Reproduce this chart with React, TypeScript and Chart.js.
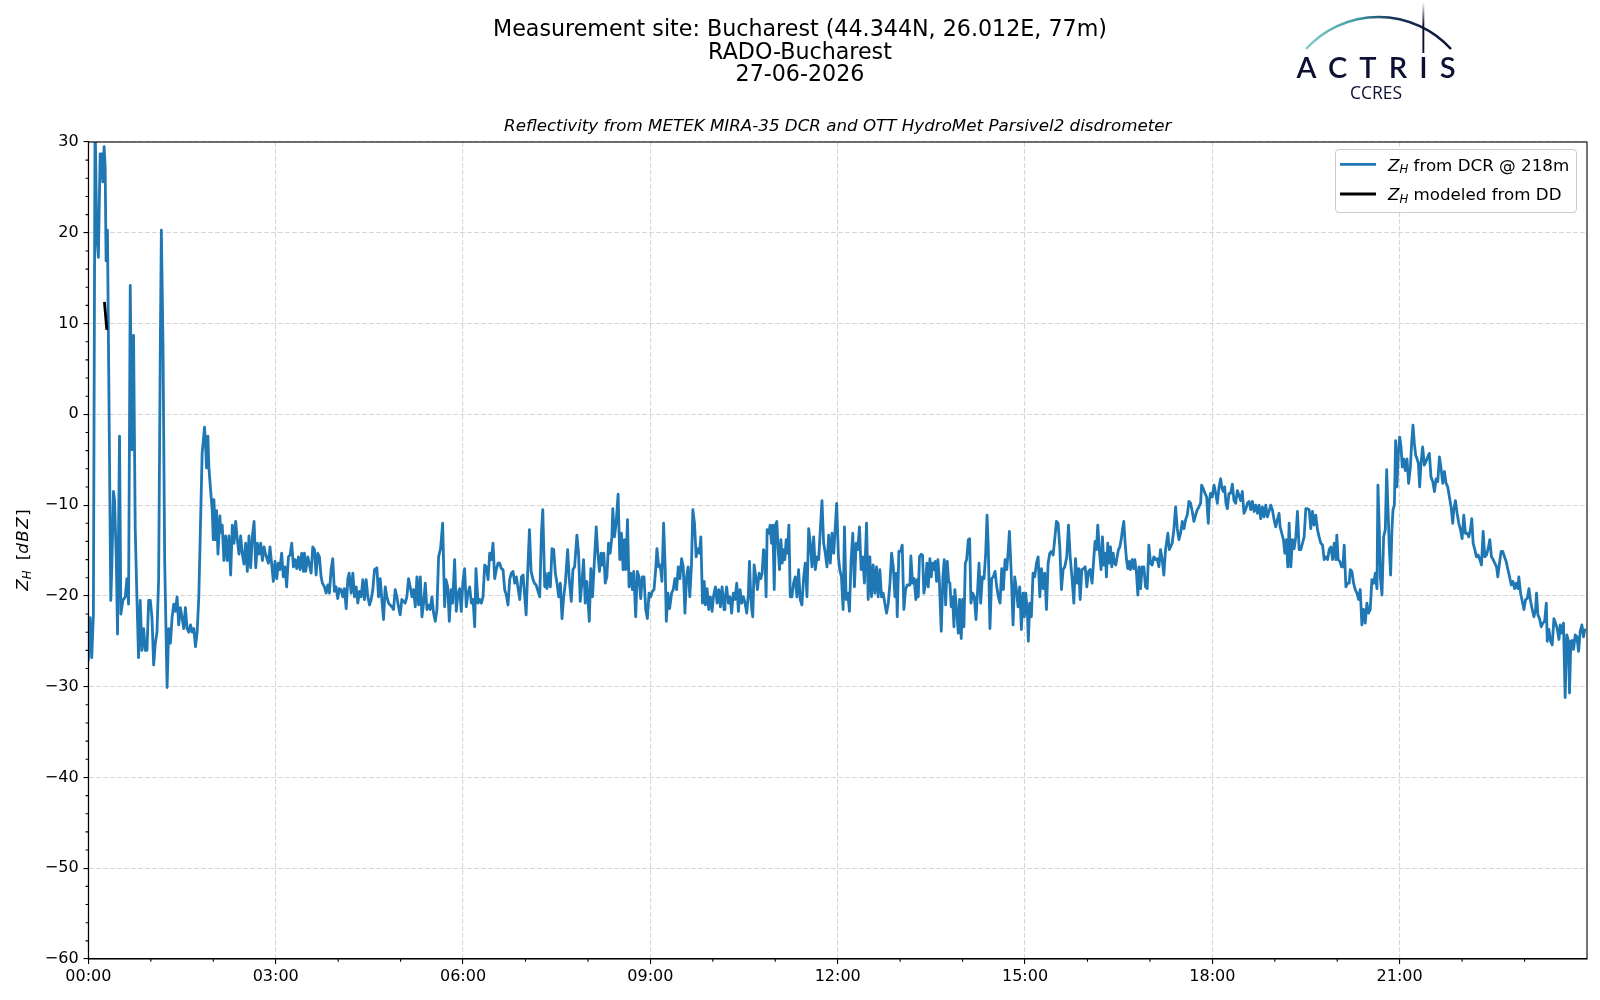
import { useEffect, useRef } from "react";
import { Chart, registerables } from "chart.js";

Chart.register(...registerables);

// Reflectivity: minutes after 00:00 and dBZ
const dcrMinutes = [
  0, 1.6, 3.2, 4.8, 6.4, 8.0, 9.6, 11.3, 12.9, 13.8,
  15.1, 16.1, 17.0, 18.3, 21.5, 22.5, 24.1, 25.1, 26.7, 28.0,
  29.9, 31.2, 33.1, 35.4, 37.0, 38.6, 40.2, 41.8, 43.4, 45.0,
  46.6, 48.2, 49.8, 51.4, 53.1, 54.7, 56.3, 57.9, 59.5, 61.1,
  62.7, 64.3, 65.9, 67.5, 69.1, 70.1, 71.7, 73.3, 75.6, 77.2,
  78.8, 80.4, 82.0, 83.6, 85.2, 86.8, 88.4, 90.0, 91.6, 93.2,
  94.8, 96.5, 98.1, 99.7, 101.3, 102.9, 104.5, 106.1, 107.7, 109.3,
  111.6, 112.5, 113.5, 114.8, 115.8, 117.4, 119.0, 120.0, 120.6, 122.2,
  123.2, 124.5, 126.4, 127.0, 128.6, 130.2, 131.8, 133.4, 135.0, 136.7,
  138.3, 139.9, 141.5, 143.1, 144.7, 146.3, 147.9, 149.5, 151.1, 152.7,
  154.3, 155.9, 157.6, 159.2, 160.8, 162.4, 164.0, 165.6, 167.2, 168.8,
  170, 173, 174.5, 177.7, 179.3, 181, 182.5, 184, 185.7, 187.3,
  188.9, 190.5, 192.2, 193.8, 195.4, 197, 198.6, 200.2, 201.8, 203.4,
  205, 206.6, 207.6, 208.8, 210.8, 214, 215.6, 217.2, 218.8, 220.4,
  222, 223.6, 224.9, 226.8, 228.4, 230, 231.6, 233.2, 234.8, 236.4,
  238, 239.6, 241.2, 242.8, 244.4, 246, 247.7, 249.3, 250.5, 252.5,
  254.1, 255.7, 257.3, 258.9, 260.5, 262.1, 263.7, 265.3, 266.9, 268.5,
  270.1, 271.7, 273.3, 274.9, 277.2, 278.8, 280.4, 282, 283.6, 285.2,
  286.8, 288.4, 290, 291.6, 293.2, 294.8, 296.4, 298, 299.6, 301.2,
  302.8, 304.4, 306, 307.6, 309.2, 310.9, 312.5, 314.1, 315.7, 317.3,
  318.9, 320.5, 322.1, 323.7, 325.3, 326.9, 328.5, 330.1, 331.7, 333.3,
  334.9, 336.5, 338.4, 340.4, 342.3, 343.6, 345.2, 346.8, 348.4, 350,
  351.9, 353.5, 355.1, 356.7, 358.3, 359.9, 361.5, 363.1, 364.7, 366.4,
  368, 369.6, 371.2, 372.4, 374.4, 376, 377.6, 379.2, 380.8, 382.4,
  384, 385.6, 387.2, 388.8, 390.4, 392, 393.6, 395.2, 396.8, 398.4,
  400, 401.6, 403.2, 404.8, 406.4, 408, 409.7, 411.3, 412.9, 414.5,
  416.1, 417.7, 419.3, 420.6, 422.2, 423.8, 425.4, 427, 428.6, 430.2,
  432.1, 433.7, 435.3, 436.6, 438.5,
  439.1, 440.7, 442.3, 443.9, 445.5, 447.1, 448.7, 450.3, 451.9, 453.5,
  455.1, 456.7, 458.3, 460.5, 462.1, 464.0, 465.6, 467.2, 469.4, 471.0,
  472.6, 474.2, 475.8, 477.4, 479.0, 481.3, 482.8, 484.4, 486.4, 488.0,
  489.5, 491.1, 492.7, 494.0, 495.3, 496.6, 498.2, 499.8, 501.4, 503.0,
  503.9, 505.5, 507.1, 509.0, 510.6, 512.2, 513.8, 515.1, 516.4, 518.0,
  519.5, 521.1, 522.7, 524.0, 525.9, 527.5, 529.1, 530.7, 532.3, 533.9,
  535.5, 537.1, 538.7, 540.3, 541.9, 543.5, 545.1, 546.3, 548.0, 549.5,
  551.1, 552.7, 554.3, 555.3, 556.9, 558.5, 560.4, 562.0, 563.6, 565.2,
  566.8, 568.4, 570.0, 571.6, 573.2, 574.8, 576.3, 577.9, 579.5, 580.8,
  582.4, 584.0, 585.3, 587.2, 588.5, 590.1, 591.7, 592.9, 594.5, 596.1,
  597.7, 599.3, 600.6, 602.5, 604.1, 605.7, 607.3, 608.9, 610.8,
  611.7, 613.3, 614.9, 616.5, 618.1, 619.7, 621.3, 623.0, 624.6, 626.2,
  627.8, 629.4, 631.0, 632.6, 634.2, 635.2, 636.5, 637.4, 638.4, 639.7,
  641.3, 642.9, 644.5, 646.1, 647.4, 648.7, 650.0, 651.2, 652.2, 653.8,
  655.1, 656.4, 657.7, 659.0, 660.2, 661.5, 662.8, 664.1, 665.4, 666.7,
  668.0, 669.2, 670.5, 671.8, 673.1, 674.4, 676.0, 677.6, 679.2, 680.8,
  682.4, 684.0, 685.6, 687.2, 688.8, 690.5, 692.1, 693.7, 695.3, 696.9,
  698.5, 700.1, 701.7, 703.3, 704.9, 706.5, 708.1, 709.7, 711.3, 712.9,
  714.5, 716.2, 717.5, 719.0, 720.7, 722.0, 723.6, 725.2, 726.5, 728.1,
  729.7, 731.3, 732.9, 734.5, 736.1, 737.7, 739.3, 740.9, 742.5, 744.1,
  745.7, 747.7, 749.3, 750.9, 752.5, 754.1, 755.7, 757.3, 758.9, 760.5,
  762.1, 763.7, 765.3, 766.9, 768.6, 770.2, 771.8, 773.4, 775.0, 776.3,
  777.2, 778.8, 780.4, 782.0, 783.6, 785.2, 786.8, 789.4,
  790.3, 791.9, 793.5, 795.1, 796.4, 797.4, 798.6, 800.2, 801.5, 802.8,
  804.4, 805.7, 807.0, 808.6, 809.9, 811.2, 812.4, 813.7, 815.0, 816.3,
  817.6, 819.5, 821.1, 822.4, 823.7, 825.3, 826.6, 827.8, 829.1, 830.4,
  831.7, 832.6, 834.2, 835.9, 837.1, 838.7, 840.0, 841.3, 842.6, 843.9,
  845.5, 846.8, 848.0, 849.7, 851.3, 852.9, 854.1, 855.8, 857.4, 859.0,
  860.6, 862.2, 863.5, 864.7, 866.3, 867.9, 869.5, 871.2, 872.8, 874.4,
  876.0, 877.6, 879.2, 880.8, 882.4, 883.7, 885.0, 886.6, 888.5, 890.1,
  891.7, 893.3, 894.9, 896.5, 898.1, 899.4, 900.7, 902.3, 903.2, 904.5,
  906.1, 907.7, 909.3, 911.0, 912.6, 914.2, 915.8, 917.4, 919.0, 920.6,
  922.2, 923.8, 925.4, 927.0, 928.6, 930.2, 931.8, 933.4, 935.0, 936.6,
  938.2, 940.1, 941.8, 943.4, 945.3, 946.9, 948.5, 950.1, 951.7, 953.0,
  954.6, 956.2, 957.8, 959.4, 961.0, 962.6,
  964.4, 966.0, 967.3, 968.6, 969.9, 971.5, 973.1, 974.4, 975.7, 977.3,
  978.2, 979.5, 980.8, 982.1, 983.4, 984.7, 985.9, 987.2, 988.5, 989.8,
  991.1, 992.4, 993.6, 994.9, 996.2, 997.5, 998.8, 1000.1, 1001.3, 1002.9,
  1004.5, 1005.5, 1007.1, 1008.4, 1009.7, 1011.0, 1012.6, 1014.2, 1015.8, 1017.4,
  1019.0, 1020.6, 1022.2, 1023.8, 1025.4, 1027.0, 1028.6, 1030.2, 1031.8, 1033.4,
  1035.0, 1037.3, 1038.6, 1039.8, 1041.4, 1043.0, 1044.7, 1046.3, 1047.9, 1049.5,
  1051.1, 1052.7, 1054.3, 1055.9, 1057.5, 1059.1, 1060.7, 1062.3, 1063.9, 1065.5,
  1067.1, 1068.7, 1069.7, 1071.3, 1072.9, 1074.5, 1076.1, 1077.1, 1078.3, 1079.9,
  1081.6, 1083.2, 1084.8, 1086.4, 1088.0, 1089.3, 1090.5, 1091.8, 1093.1, 1094.4,
  1096.0, 1097.6, 1099.2, 1100.8, 1102.4, 1104.0, 1105.6, 1107.2, 1108.8, 1110.4,
  1112.0, 1113.7, 1115.3, 1116.9, 1118.5, 1120.1, 1121.7, 1123.3, 1124.9, 1126.5,
  1128.1, 1129.7, 1131.3, 1132.9, 1134.5, 1136.1, 1137.7, 1139.3, 1140.9, 1142.5,
  1144.1, 1145.1, 1146.7, 1148.3, 1149.6, 1151.2, 1152.5, 1153.8, 1155.4, 1157.0,
  1158.6, 1160.2, 1161.8, 1163.4, 1165.0, 1166.6, 1168.2, 1169.8, 1171.4, 1173.0,
  1174.6, 1176.2, 1177.8, 1179.4, 1181.0, 1182.6, 1184.2, 1185.9, 1187.5, 1189.1,
  1190.7, 1192.3, 1193.9, 1195.5, 1197.1, 1198.7, 1199.6, 1200.9, 1202.5, 1204.1,
  1205.4, 1206.7, 1208.3, 1209.9, 1211.5, 1212.5, 1214.1, 1215.7, 1217.3, 1218.9,
  1220.5, 1222.1,
  1223.7, 1225.3, 1226.9, 1228.5, 1230.1, 1231.7, 1233.3, 1235.0, 1236.6, 1238.2,
  1239.1, 1240.4, 1241.4, 1243.0, 1244.6, 1246.2, 1247.5, 1248.8, 1250.0, 1251.3,
  1252.6, 1253.6, 1254.9, 1256.1, 1257.4, 1258.7, 1260.0, 1261.3, 1262.5, 1263.8,
  1265.4, 1267.0, 1268.6, 1270.3, 1271.5, 1272.8, 1274.1, 1275.4, 1276.7, 1278.0,
  1279.2, 1280.5, 1282.1, 1283.7, 1285.3, 1286.9, 1288.5, 1290.1, 1291.8, 1293.4,
  1295.0, 1296.6, 1298.2, 1299.8, 1301.4, 1303.0, 1304.6, 1306.2, 1307.8, 1309.4,
  1311.0, 1312.0, 1313.6, 1315.2, 1316.8, 1318.4, 1320.0, 1321.6, 1323.2, 1324.8,
  1326.4, 1328.0, 1329.3, 1330.6, 1332.2, 1333.8, 1335.4, 1337.0, 1338.6, 1340.2,
  1341.8, 1343.4, 1345.0, 1346.6, 1348.2, 1349.8, 1351.4, 1353.1, 1354.3, 1355.9,
  1357.5, 1359.1, 1360.7, 1362.3, 1364.0, 1365.6, 1367.2, 1368.8, 1370.4, 1372.0,
  1373.6, 1374.5, 1376.2, 1377.8, 1379.4, 1381.0, 1382.6, 1384.2, 1385.8, 1387.4,
  1389.0, 1390.6, 1391.5, 1392.8, 1394.4, 1396.0, 1397.6, 1399.3, 1400.9, 1401.8,
  1403.4, 1405.0, 1406.6, 1408.2, 1409.8, 1411.5, 1413.1,
  1414.2, 1415.8, 1417.4, 1419.0, 1420.6, 1422.2, 1423.2, 1424.5, 1425.8, 1427.1,
  1428.7, 1430.3, 1431.9, 1433.5, 1435.1, 1436.7, 1438.0,
];

const dcrZh = [
  -27.2, -22.4, -26.8, -22.0, 33, 19.7, 17.3, 28.7, 28.7, 25.6,
  29.5, 27.2, 16.9, 20.3, -20.5, -16.9, -8.5, -9.4, -15.4, -24.2,
  -2.4, -22.0, -20.5, -20.1, -18.1, -20.9, 14.2, -3.9, 8.7, -12.6,
  -20.1, -26.8, -20.5, -26.0, -23.6, -26.0, -26.0, -20.5, -20.5, -22.4,
  -27.6, -25.2, -24.0, -18.1, 7.5, 20.3, 7.5, -16.1, -30.1, -23.6,
  -25.2, -22.4, -20.9, -21.7, -20.1, -23.2, -21.3, -22.4, -23.6, -21.3,
  -23.6, -24.0, -23.2, -24.0, -23.6, -25.6, -24.0, -20.1, -12.2, -4.3,
  -1.4, -3.1, -5.9, -2.4, -5.9, -8.3, -10.6, -13.8, -9.4, -13.8,
  -10.6, -15.4, -11.2, -13.0, -12.2, -16.1, -13.4, -16.1, -13.4, -17.7,
  -12.2, -14.2, -11.8, -13.8, -15.4, -13.4, -15.4, -16.5, -14.2, -17.3,
  -13.4, -16.9, -13.4, -11.8, -16.9, -14.2, -15.4, -14.2, -16.1, -14.6,
  -15.3, -16.4, -14.6, -18.4, -16.2, -18.1, -16.4, -17.1, -15.3, -17.9,
  -16.8, -19.0, -15.7, -15.5, -14.2, -16.8, -16.0, -17.0, -15.7, -17.1,
  -15.3, -17.3, -15.3, -17.3, -15.7, -17.5, -14.6, -14.9, -17.7, -15.3,
  -15.7, -17.9, -18.6, -19.0, -19.7, -18.8, -19.7, -17.1, -15.9, -19.5,
  -19.0, -20.3, -19.2, -19.3, -20.1, -19.2, -21.4, -18.1, -17.5, -19.7,
  -17.5, -20.1, -19.0, -20.8, -19.5, -20.1, -18.2, -20.4, -18.2, -20.1,
  -21.0, -20.4, -19.3, -17.1, -16.9, -20.1, -18.1, -20.4, -22.6, -19.0,
  -20.1, -20.8, -21.0, -21.2, -21.5, -19.3, -20.1, -21.2, -22.1, -20.4,
  -20.6, -20.8, -20.1, -18.1, -19.0, -20.1, -19.3, -21.2, -17.9, -21.0,
  -17.9, -22.3, -20.8, -18.6, -21.5, -21.0, -21.5, -20.1, -21.9, -22.8,
  -21.5, -15.7, -14.8, -12.0, -21.2, -18.2, -19.0, -22.8, -19.3, -20.8,
  -16.0, -21.7, -19.7, -19.2, -21.7, -18.4, -17.0, -21.2, -19.7, -19.0,
  -20.8, -20.4, -23.4, -17.0, -20.8, -20.4, -20.8, -20.1, -16.6, -16.8,
  -18.2, -15.3, -16.0, -14.2, -18.1, -17.1, -16.4, -16.4, -17.0, -17.1,
  -19.3, -19.9, -21.0, -18.2, -17.5, -17.3, -18.6, -17.9, -19.2, -20.4,
  -17.9, -17.7, -20.1, -22.1, -17.1, -12.7, -17.3, -18.1, -18.6, -18.8,
  -19.5, -20.1, -13.1, -10.5, -19.0,
  -17.5, -19.2, -17.5, -19.0, -14.8, -14.9, -17.5, -18.6, -20.1, -18.6,
  -22.5, -20.1, -18.6, -14.9, -18.2, -20.6, -17.1, -16.8, -13.3, -15.3,
  -20.6, -18.6, -16.0, -20.8, -18.4, -22.8, -17.0, -20.1, -15.7, -12.4,
  -15.3, -17.3, -15.3, -16.6, -15.3, -18.6, -17.9, -14.2, -15.3, -13.5,
  -10.4, -13.5, -12.0, -8.8, -16.0, -13.1, -17.1, -13.8, -17.1, -11.6,
  -19.0, -17.5, -19.3, -17.3, -22.3, -17.3, -17.9, -20.3, -17.9, -17.9,
  -21.5, -22.5, -19.7, -20.1, -19.5, -19.3, -17.1, -14.8, -16.8, -16.6,
  -18.4, -12.0, -17.1, -22.8, -19.7, -21.4, -19.7, -19.3, -18.1, -19.3,
  -16.8, -18.1, -15.9, -16.8, -21.9, -17.9, -16.8, -20.1, -16.6, -10.5,
  -12.0, -15.7, -14.8, -15.3, -13.5, -20.8, -18.4, -21.0, -19.2, -21.5,
  -20.1, -21.7, -20.1, -19.0, -20.8, -19.3, -21.2, -19.0, -21.5,
  -20.4, -19.0, -20.8, -20.1, -21.9, -19.7, -20.4, -18.6, -21.7, -19.3,
  -20.8, -20.1, -20.8, -21.9, -19.7, -16.2, -20.1, -21.5, -22.3, -16.6,
  -17.9, -19.3, -17.5, -18.1, -17.5, -14.9, -15.3, -20.1, -12.7, -13.1,
  -12.2, -14.2, -12.2, -19.3, -12.2, -11.8, -14.9, -17.1, -13.8, -16.4,
  -14.9, -16.0, -13.8, -15.3, -12.2, -20.1, -20.1, -18.6, -17.9, -20.1,
  -17.1, -20.4, -21.0, -18.1, -16.4, -20.1, -12.6, -14.2, -16.8, -13.5,
  -17.1, -15.7, -16.0, -12.7, -9.5, -14.2, -15.3, -16.8, -13.3, -16.4,
  -13.1, -15.3, -12.7, -9.8, -15.7, -17.1, -17.9, -21.5, -12.4, -20.4,
  -19.7, -21.7, -16.0, -13.1, -19.0, -14.2, -14.9, -12.4, -17.1, -15.7,
  -18.6, -12.0, -20.4, -15.7, -20.1, -16.6, -19.7, -16.8, -20.1, -17.1,
  -20.1, -19.7, -20.8, -21.9, -20.8, -18.6, -15.3, -16.8, -20.1, -17.5,
  -22.3, -15.1, -15.1, -14.4, -21.5, -19.3, -18.8, -18.8,
  -15.6, -18.6, -18.1, -20.4, -18.2, -20.1, -15.7, -15.4, -15.5, -19.7,
  -18.6, -16.4, -19.0, -15.9, -17.9, -16.4, -17.1, -16.2, -18.4, -16.0,
  -18.1, -23.9, -17.9, -16.0, -21.0, -16.2, -18.4, -18.6, -21.2, -20.1,
  -23.4, -19.3, -21.5, -24.1, -20.4, -24.7, -20.4, -23.4, -16.4, -16.0,
  -13.8, -13.7, -20.8, -19.7, -20.1, -22.6, -20.1, -16.4, -20.8, -17.9,
  -18.1, -15.3, -11.1, -14.6, -23.6, -18.1, -17.9, -17.3, -19.0, -20.1,
  -20.8, -17.0, -19.3, -16.0, -17.1, -15.3, -12.9, -17.1, -23.2, -17.9,
  -19.3, -21.2, -19.0, -23.7, -19.7, -22.3, -19.7, -21.9, -25.0, -20.8,
  -22.3, -17.5, -17.9, -16.4, -15.7, -20.1, -17.0, -19.2, -17.5, -21.5,
  -16.4, -15.3, -15.1, -15.5, -13.7, -11.8, -12.0, -14.6, -19.3, -17.1,
  -16.8, -15.7, -12.2, -15.7, -18.2, -20.8, -15.9, -18.6, -17.0, -20.4,
  -17.1, -17.0, -16.8, -19.0, -17.3, -17.1,
  -18.6, -16.0, -14.0, -14.9, -12.2, -15.1, -17.1, -13.5, -16.6, -15.3,
  -17.9, -14.2, -16.4, -14.6, -16.8, -15.3, -16.4, -16.6, -15.7, -14.9,
  -14.6, -13.8, -12.7, -11.8, -14.2, -16.0, -17.0, -16.2, -17.1, -16.0,
  -17.0, -16.0, -17.5, -19.9, -16.8, -19.2, -16.8, -16.8, -19.0, -19.2,
  -14.4, -16.4, -16.6, -15.7, -16.0, -15.9, -16.8, -14.9, -16.0, -17.7,
  -14.9, -13.1, -14.9, -14.6, -14.2, -12.7, -10.2, -12.6, -13.8, -13.1,
  -11.8, -12.6, -11.6, -11.1, -9.6, -9.8, -10.7, -11.8, -11.1, -10.5,
  -10.2, -9.8, -7.8, -8.2, -8.7, -9.1, -12.0, -9.5, -8.7, -9.1,
  -7.8, -8.7, -9.8, -8.0, -7.1, -8.2, -8.5, -8.0, -9.8, -10.4,
  -8.7, -8.7, -7.7, -9.5, -9.8, -8.4, -8.9, -9.5, -8.5, -10.9,
  -10.5, -9.8, -9.6, -10.5, -9.6, -10.7, -10.0, -10.9, -10.0, -11.5,
  -10.2, -11.3, -10.0, -11.3, -10.7, -10.0, -10.5, -11.6, -12.4, -11.6,
  -10.9, -12.4, -13.1, -13.8, -15.3, -13.8, -16.8, -12.0, -16.8, -13.8,
  -14.8, -13.5, -10.7, -14.9, -14.9, -14.2, -13.5, -10.4, -10.4, -10.5,
  -12.6, -10.7, -12.2, -11.1, -12.7, -13.5, -14.2, -14.4, -16.0, -15.7,
  -16.0, -14.9, -14.6, -16.0, -14.2, -16.0, -13.3, -16.0, -16.2, -16.8,
  -16.8, -14.4, -19.0, -18.6, -18.6, -17.1, -17.3, -18.6, -19.3, -19.7,
  -20.4, -19.3,
  -23.2, -21.5, -23.0, -20.8, -21.9, -21.5, -18.2, -18.6, -17.5, -19.2,
  -7.8, -12.7, -17.9, -19.9, -13.5, -12.7, -6.1, -10.5, -14.6, -17.7,
  -12.6, -10.5, -10.0, -2.9, -8.0, -4.3, -2.5, -3.6, -5.8, -4.9,
  -6.2, -4.9, -7.6, -5.8, -3.2, -1.2, -3.2, -4.5, -4.9, -5.4,
  -8.0, -5.4, -3.6, -5.6, -5.2, -4.7, -4.3, -6.9, -7.4, -8.5,
  -7.1, -7.4, -4.7, -6.0, -7.6, -6.3, -7.6, -8.0, -9.1, -10.2,
  -12.0, -10.5, -9.5, -10.9, -12.0, -12.7, -13.7, -11.1, -13.1, -13.1,
  -13.5, -12.7, -11.5, -14.2, -14.9, -15.7, -15.5, -16.0, -16.6, -12.9,
  -15.7, -15.5, -14.8, -13.8, -15.7, -16.0, -16.4, -16.8, -17.9, -16.4,
  -15.1, -15.1, -15.7, -16.2, -17.1, -17.9, -18.8, -18.4, -19.2, -18.6,
  -19.2, -17.9, -19.7, -20.6, -21.5, -20.4, -20.3, -19.2, -20.6, -21.5,
  -22.3, -21.5, -19.7, -22.1, -22.5, -23.4, -23.0, -22.8, -20.8, -25.0,
  -23.7, -25.0, -25.4, -22.5, -23.0, -23.7, -24.8,
  -23.2, -24.1, -23.0, -31.2, -24.3, -25.0, -30.7, -25.0, -24.9, -25.9,
  -24.3, -24.5, -26.1, -23.9, -23.2, -24.5, -23.6,
];

// Reflectivity modeled from the disdrometer drop size distribution
const ddMinutes = [15.4, 16.5, 17.7];
const ddZh = [12.4, 10.9, 9.3];

const xMajorTicks = [0, 180, 360, 540, 720, 900, 1080, 1260];
const xTickLabels = ["00:00", "03:00", "06:00", "09:00", "12:00", "15:00", "18:00", "21:00"];
const xMinorTicks = [60, 120, 240, 300, 420, 480, 600, 660, 780, 840, 960, 1020, 1140, 1200, 1320, 1380];
const yMajorTicks = [-60, -50, -40, -30, -20, -10, 0, 10, 20, 30];
const yMinorTicks = [
  -58, -56, -54, -52, -48, -46, -44, -42, -38, -36, -34, -32, -28, -26, -24, -22, -18, -16,
  -14, -12, -8, -6, -4, -2, 2, 4, 6, 8, 12, 14, 16, 18, 22, 24, 26, 28,
];

const titleLines = ["Measurement site: Bucharest (44.344N, 26.012E, 77m)", "RADO-Bucharest", "27-06-2026"];
const subtitle = "Reflectivity from METEK MIRA-35 DCR and OTT HydroMet Parsivel2 disdrometer";
const seriesLabels = [" from DCR @ 218m", " modeled from DD"];

const FONT = "DejaVu Sans";
const DCR_BLUE = "#1f77b4";
const NAVY = "#0d1033";

// minor ticks + the closed frame round the axes, like matplotlib spines
const axesFrame = {
  id: "axesFrame",
  afterDraw(chart: any) {
    const { ctx, chartArea: a } = chart;
    const xs = chart.scales.x;
    const ys = chart.scales.y;
    ctx.save();
    ctx.strokeStyle = "#000";
    ctx.lineWidth = 1.1;
    ctx.beginPath();
    yMinorTicks.forEach((v) => {
      const p = ys.getPixelForValue(v);
      ctx.moveTo(a.left - 2.8, p);
      ctx.lineTo(a.left, p);
    });
    xMinorTicks.forEach((v) => {
      const p = xs.getPixelForValue(v);
      ctx.moveTo(p, a.bottom);
      ctx.lineTo(p, a.bottom + 2.8);
    });
    ctx.stroke();
    ctx.strokeRect(a.left, a.top, a.right - a.left, a.bottom - a.top);
    ctx.restore();
  },
};

const minus = (v: number) => (v < 0 ? "\u2212" + Math.abs(v) : String(v));

export default function App() {
  const canvasRef = useRef<HTMLCanvasElement>(null);
  const chartRef = useRef<Chart | null>(null);

  useEffect(() => {
    if (!canvasRef.current) return;
    if (chartRef.current) chartRef.current.destroy();

    const gridOpts = { color: "#d6d6d6", lineWidth: 1.1, tickLength: 4.9, tickColor: "#000", tickWidth: 1.1 };
    const borderOpts = { display: true, color: "#000", width: 1.1, dash: [4.7, 2.3] };

    chartRef.current = new Chart(canvasRef.current, {
      type: "line",
      data: {
        datasets: [
          {
            label: "Z_H" + seriesLabels[0],
            data: dcrMinutes.map((m, i) => ({ x: m, y: dcrZh[i] })),
            borderColor: DCR_BLUE,
            borderWidth: 2.8,
            borderJoinStyle: "round",
            pointRadius: 0,
            tension: 0,
            clip: 0,
            order: 1,
          },
          {
            label: "Z_H" + seriesLabels[1],
            data: ddMinutes.map((m, i) => ({ x: m, y: ddZh[i] })),
            borderColor: "#000",
            borderWidth: 2.8,
            pointRadius: 0,
            tension: 0,
            clip: 0,
            order: 0,
          },
        ],
      },
      options: {
        responsive: false,
        animation: false,
        events: [],
        layout: { padding: { left: 0, top: 142, right: 13, bottom: 0 } },
        plugins: { legend: { display: false }, tooltip: { enabled: false } },
        scales: {
          x: {
            type: "linear",
            min: 0,
            max: 1440,
            afterBuildTicks: (s: any) => {
              s.ticks = xMajorTicks.map((v) => ({ value: v }));
            },
            afterFit: (s: any) => {
              s.height = 41;
            },
            ticks: {
              autoSkip: false,
              maxRotation: 0,
              padding: 3.5,
              color: "#000",
              font: { family: FONT, size: 16 },
              callback: (v: any) => {
                const i = xMajorTicks.indexOf(Number(v));
                return i >= 0 ? xTickLabels[i] : "";
              },
            },
            grid: gridOpts,
            border: borderOpts,
          },
          y: {
            type: "linear",
            min: -60,
            max: 30,
            afterBuildTicks: (s: any) => {
              s.ticks = yMajorTicks.map((v) => ({ value: v }));
            },
            afterFit: (s: any) => {
              s.width = 88.4;
            },
            ticks: {
              padding: 4.9,
              color: "#000",
              font: { family: FONT, size: 16 },
              callback: (v: any) => minus(Number(v)),
            },
            grid: gridOpts,
            border: borderOpts,
          },
        },
      } as any,
      plugins: [axesFrame],
    });

    return () => {
      if (chartRef.current) {
        chartRef.current.destroy();
        chartRef.current = null;
      }
    };
  }, []);

  return (
    <div style={{ position: "absolute", left: 0, top: 0, width: 1600, height: 1000, background: "#fff" }}>
      <canvas ref={canvasRef} width={1600} height={1000} style={{ position: "absolute", left: 0, top: 0 }} />
      <svg
        width={1600}
        height={1000}
        style={{ position: "absolute", left: 0, top: 0, pointerEvents: "none" }}
        fontFamily={FONT}
      >
        <defs>
          <linearGradient id="arcGrad" x1="1306" y1="0" x2="1451" y2="0" gradientUnits="userSpaceOnUse">
            <stop offset="0" stopColor="#86d0cb" />
            <stop offset="0.35" stopColor="#3f9aa3" />
            <stop offset="0.6" stopColor="#17345a" />
            <stop offset="1" stopColor={NAVY} />
          </linearGradient>
          <linearGradient id="mastGrad" x1="0" y1="2" x2="0" y2="53" gradientUnits="userSpaceOnUse">
            <stop offset="0" stopColor={NAVY} stopOpacity="0" />
            <stop offset="0.45" stopColor={NAVY} stopOpacity="1" />
          </linearGradient>
        </defs>

        {/* header */}
        <text x={800} y={36} textAnchor="middle" fontSize={22.2} fill="#000">{titleLines[0]}</text>
        <text x={800} y={58.6} textAnchor="middle" fontSize={22.2} fill="#000">{titleLines[1]}</text>
        <text x={800} y={81} textAnchor="middle" fontSize={22.2} fill="#000">{titleLines[2]}</text>
        <text x={837.7} y={131} textAnchor="middle" fontSize={16.7} fontStyle="italic" fill="#000">{subtitle}</text>

        {/* ACTRIS CCRES logo */}
        <path d="M1306 49 A98 98 0 0 1 1451 49" fill="none" stroke="url(#arcGrad)" strokeWidth={2.6} />
        <rect x={1422.4} y={2} width={1.9} height={51} fill="url(#mastGrad)" />
        <text x={1296.5} y={78.3} fontSize={29} fontFamily="Lato" fontWeight={600} fill={NAVY} textLength={159} lengthAdjust="spacing">
          ACTRIS
        </text>
        <text x={1376} y={99.3} textAnchor="middle" fontSize={17.5} fontFamily="Open Sans" fill={NAVY}>
          CCRES
        </text>

        {/* legend */}
        <rect x={1335.5} y={149.5} width={241} height={63} rx={3.5} fill="rgba(255,255,255,0.8)" stroke="#cccccc" strokeWidth={1} />
        <line x1={1340} x2={1376} y1={164.3} y2={164.3} stroke={DCR_BLUE} strokeWidth={2.8} />
        <line x1={1340} x2={1376} y1={194} y2={194} stroke="#000" strokeWidth={2.8} />
        <text x={1388} y={170.7} fontSize={16.7} fill="#000">
          <tspan fontStyle="italic">Z</tspan>
          <tspan fontStyle="italic" fontSize={11.7} dy={2.7}>H</tspan>
          <tspan dy={-2.7}>{seriesLabels[0]}</tspan>
        </text>
        <text x={1388} y={200.3} fontSize={16.7} fill="#000">
          <tspan fontStyle="italic">Z</tspan>
          <tspan fontStyle="italic" fontSize={11.7} dy={2.7}>H</tspan>
          <tspan dy={-2.7}>{seriesLabels[1]}</tspan>
        </text>

        {/* y axis label */}
        <text transform="translate(28 550) rotate(-90)" textAnchor="middle" fontSize={16.7} fill="#000">
          <tspan fontStyle="italic">Z</tspan>
          <tspan fontStyle="italic" fontSize={11.7} dy={2.8}>H</tspan>
          <tspan dy={-2.8} dx={5}>{" ["}</tspan>
          <tspan fontStyle="italic" letterSpacing={1.5}>dBZ</tspan>
          <tspan>]</tspan>
        </text>
      </svg>
    </div>
  );
}
